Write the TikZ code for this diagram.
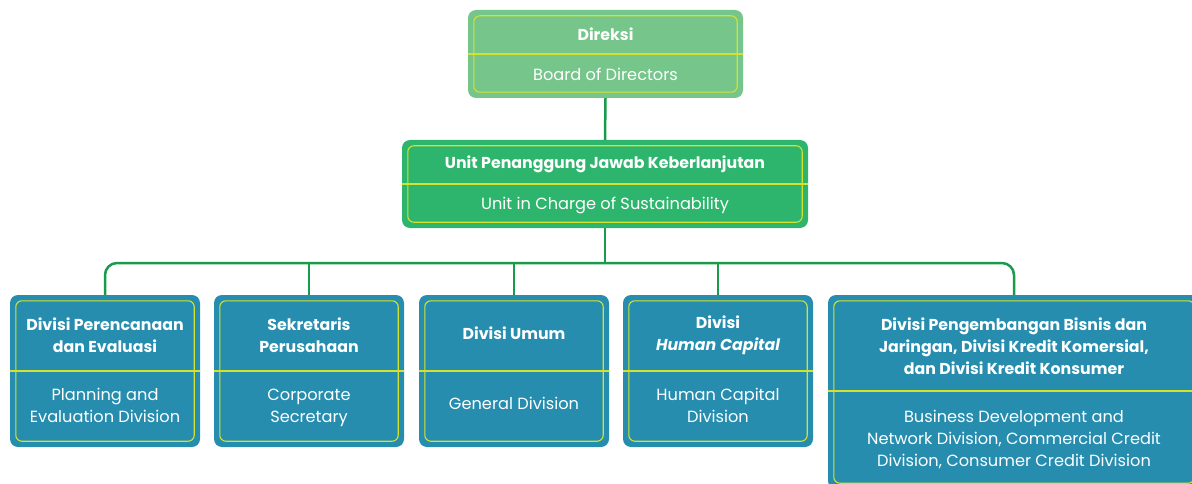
\documentclass[tikz,border=0pt]{standalone}
\usepackage{fontspec}
\setmainfont{Poppins}
\definecolor{dirgreen}{HTML}{76C58B}
\definecolor{unitgreen}{HTML}{2EB56D}
\definecolor{divblue}{HTML}{268DAF}
\definecolor{ylw}{HTML}{D4E22F}
\definecolor{conngreen}{HTML}{1A9B4B}
\tikzset{
  boxshape/.style={draw=none, rounded corners=8pt, inner sep=0pt, minimum width=#1},
  inner/.style={draw=ylw, line width=1.1pt, rounded corners=6pt},
  divline/.style={draw=ylw, line width=1.1pt},
  conn/.style={draw=conngreen, line width=2.5pt},
  ttl/.style={text=white, font=\bfseries\fontsize{15.8}{22}\selectfont, align=center, inner sep=0pt},
  eng/.style={text=white, font=\fontsize{16.2}{22}\selectfont, align=center, inner sep=0pt}
}
\begin{document}
\begin{tikzpicture}[x=1pt,y=-1pt]
\useasboundingbox (0,0) rectangle (1192,484);
\clip (0,0) rectangle (1192,484);
% Direksi
\node[boxshape=275pt, minimum height=88pt, fill=dirgreen] (dir) at (605.5,54) {};
\draw[inner] ([shift={(6pt,-6pt)}]dir.north west) rectangle ([shift={(-6pt,6pt)}]dir.south east);
\draw[divline] (dir.west) -- (dir.east);
\node[ttl] (dirT) at (605.5,34) {Direksi};
\node[eng] (dirE) at (605.5,74) {Board of Directors};
% Unit
\node[boxshape=406pt, minimum height=88pt, fill=unitgreen] (unit) at (605,184) {};
\draw[inner] ([shift={(6pt,-6pt)}]unit.north west) rectangle ([shift={(-6pt,6pt)}]unit.south east);
\draw[divline] (unit.west) -- (unit.east);
\node[ttl] (unitT) at (605,164) {Unit Penanggung Jawab Keberlanjutan};
\node[eng] (unitE) at (605,205) {Unit in Charge of Sustainability};
% connectors
\coordinate (bus) at (605,263);
\draw[conn] (dir.south) -- (unit.north);
\draw[conn] (unit.south) -- (bus);
% bottom boxes
\foreach \n/\cx in {b1/105, b2/309, b3/514, b4/718} {
  \node[boxshape=190pt, minimum height=152pt, fill=divblue] (\n) at (\cx,371) {};
  \draw[inner] ([shift={(6pt,-6pt)}]\n.north west) rectangle ([shift={(-6pt,6pt)}]\n.south east);
  \draw[divline] (\n.west) -- (\n.east);
}
\node[boxshape=372pt, minimum height=194pt, fill=divblue] (b5) at (1014,392) {};
\draw[inner] ([shift={(6pt,-6pt)}]b5.north west) rectangle ([shift={(-6pt,6pt)}]b5.south east);
\draw[divline] (b5.west |- 0,391) -- (b5.east |- 0,391);
\draw[conn, rounded corners=12pt] (b1.north) |- (bus) -| (b5.north);
\foreach \n in {b2,b3,b4} { \draw[conn] (\n.north) -- (\n.north |- bus); }
% texts
\node[ttl] (b1T) at (105,335) {Divisi Perencanaan\\dan Evaluasi};
\node[eng] (b1E) at (105,405) {Planning and\\Evaluation Division};
\node[ttl] (b2T) at (309,335) {Sekretaris\\Perusahaan};
\node[eng] (b2E) at (309,407.5) {Corporate\\Secretary};
\node[ttl] (b3T) at (514,333) {Divisi Umum};
\node[eng] (b3E) at (514,403) {General Division};
\node[ttl] (b4T) at (718,335) {Divisi\\\itshape Human Capital};
\node[eng] (b4E) at (718,405) {Human Capital\\Division};
\node[ttl] (b5T) at (1014,346) {Divisi Pengembangan Bisnis dan\\Jaringan, Divisi Kredit Komersial,\\dan Divisi Kredit Konsumer};
\node[eng] (b5E) at (1014,439.5) {Business Development and\\Network Division, Commercial Credit\\Division, Consumer Credit Division};
\end{tikzpicture}
\end{document}
